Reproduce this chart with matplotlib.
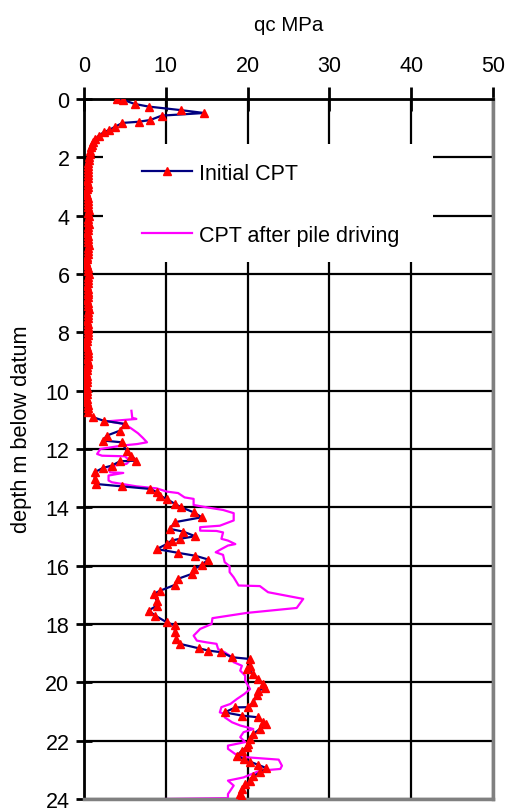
import matplotlib
matplotlib.use("Agg")
import matplotlib.pyplot as plt
from matplotlib.patches import Rectangle

plt.rcParams['font.family'] = ['Liberation Sans', 'DejaVu Sans']

# ---- data ----
depth_initial = [0.00, 0.03, 0.17, 0.26, 0.38, 0.48, 0.57, 0.72, 0.78, 0.82, 0.95, 1.06, 1.14, 1.26,
                 1.37, 1.48, 1.57, 1.66, 1.78, 1.90,
                 2.0, 2.1, 2.2, 2.3, 2.4, 2.5, 2.6, 2.7, 2.8, 2.9,
                 3.0, 3.1, 3.2, 3.3, 3.4, 3.5, 3.6, 3.7, 3.8, 3.9,
                 4.0, 4.1, 4.2, 4.3, 4.4, 4.5, 4.6, 4.7, 4.8, 4.9,
                 5.0, 5.1, 5.2, 5.3, 5.4, 5.5, 5.6, 5.7, 5.8, 5.9,
                 6.0, 6.1, 6.2, 6.3, 6.4, 6.5, 6.6, 6.7, 6.8, 6.9,
                 7.0, 7.1, 7.2, 7.3, 7.4, 7.5, 7.6, 7.7, 7.8, 7.9,
                 8.0, 8.1, 8.2, 8.3, 8.4, 8.5, 8.6, 8.7, 8.8, 8.9,
                 9.0, 9.1, 9.2, 9.3, 9.4, 9.5, 9.6, 9.7, 9.8, 9.9,
                 10.0, 10.1, 10.2, 10.3, 10.4, 10.5, 10.6,
                 10.74, 10.91, 11.03, 11.14, 11.37, 11.54, 11.71, 11.77, 12.06, 12.23, 12.40, 12.42,
                 12.57, 12.65, 12.80, 13.03, 13.20, 13.28, 13.37, 13.48, 13.60, 13.71, 13.88, 14.00,
                 14.17, 14.34, 14.51, 14.74, 14.83, 14.99, 15.08, 15.14, 15.26, 15.43, 15.56, 15.66,
                 15.79, 15.97, 16.13, 16.28, 16.45, 16.66, 16.86, 16.97, 17.20, 17.37, 17.54, 17.71,
                 17.94, 18.05, 18.28, 18.51, 18.68, 18.83, 18.91, 18.97, 19.14, 19.20, 19.43, 19.54,
                 19.71, 19.89, 20.06, 20.20, 20.28, 20.45, 20.68, 20.85, 20.86, 21.03, 21.14, 21.20,
                 21.37, 21.43, 21.60, 21.77, 21.94, 22.11, 22.22, 22.34, 22.51, 22.63, 22.72, 22.83,
                 22.94, 23.09, 23.22, 23.37, 23.49, 23.66, 23.83, 23.94, 24.05]
qc_initial = [4.0, 4.8, 6.2, 7.9, 11.8, 14.7, 9.5, 8.1, 6.7, 4.7, 3.8, 3.1, 2.4, 1.8,
              1.4, 1.1, 1.0, 0.9, 0.75, 0.7,
              0.65, 0.6, 0.55, 0.5, 0.55, 0.5, 0.45, 0.5, 0.4, 0.45,
              0.5, 0.35, 0.3, 0.4, 0.45, 0.5, 0.55, 0.5, 0.6, 0.55,
              0.6, 0.5, 0.55, 0.6, 0.5, 0.45, 0.4, 0.5, 0.45, 0.55,
              0.6, 0.55, 0.5, 0.45, 0.4, 0.35, 0.3, 0.4, 0.5, 0.55,
              0.6, 0.55, 0.5, 0.45, 0.4, 0.5, 0.55, 0.5, 0.45, 0.4,
              0.45, 0.5, 0.6, 0.55, 0.5, 0.45, 0.4, 0.45, 0.5, 0.55,
              0.5, 0.45, 0.4, 0.35, 0.3, 0.4, 0.45, 0.5, 0.45, 0.4,
              0.45, 0.5, 0.4, 0.35, 0.3, 0.35, 0.4, 0.35, 0.3, 0.35,
              0.4, 0.35, 0.3, 0.35, 0.4, 0.45, 0.5,
              0.5, 1.1, 2.4, 5.0, 4.4, 2.8, 2.3, 4.6, 5.2, 5.8, 6.4, 4.4,
              3.4, 2.3, 1.3, 1.3, 1.5, 4.6, 8.1, 8.9, 9.3, 10.1, 11.1, 11.9,
              13.4, 14.4, 11.1, 10.5, 12.1, 13.6, 11.7, 10.7, 10.1, 8.9, 11.5, 13.6,
              15.2, 14.4, 13.4, 13.2, 11.5, 11.1, 9.3, 8.5, 8.9, 8.9, 7.9, 8.7,
              10.1, 11.1, 11.1, 11.3, 11.7, 14.0, 15.2, 16.8, 18.1, 20.3, 20.3, 19.9,
              20.7, 21.3, 21.9, 22.1, 21.3, 21.1, 20.7, 20.1, 18.5, 17.2, 19.3, 21.3,
              21.9, 22.3, 21.5, 20.7, 20.3, 20.1, 19.9, 19.3, 18.7, 19.5, 20.3, 21.3,
              22.3, 21.5, 20.7, 20.3, 19.7, 19.3, 19.1, 19.3, 19.1]

depth_after = [10.69, 10.93, 10.97, 11.05, 11.15, 11.30, 11.46, 11.62, 11.77, 11.83, 11.88, 12.00,
               12.17, 12.23, 12.25, 12.40, 12.51, 12.57, 12.69, 12.80, 12.82, 12.91, 13.08, 13.14,
               13.28, 13.35, 13.46, 13.51, 13.66, 13.71, 13.92, 14.00, 14.09, 14.20, 14.45, 14.63,
               14.68, 14.80, 14.81, 14.86, 15.08, 15.14, 15.26, 15.31, 15.43, 15.54, 15.63, 15.88,
               16.02, 16.22, 16.40, 16.68, 16.70, 16.91, 17.14, 17.45, 17.62, 17.80, 18.00, 18.17,
               18.40, 18.57, 18.63, 18.68, 18.86, 18.97, 19.08, 19.31, 19.43, 19.60, 19.77, 19.94,
               20.23, 20.40, 20.57, 20.74, 20.85, 21.03, 21.09, 21.20, 21.37, 21.48, 21.60, 21.71,
               21.88, 22.05, 22.17, 22.28, 22.46, 22.57, 22.65, 22.86, 22.97, 23.03, 23.26, 23.37,
               23.54, 23.83, 23.97, 24.00]
qc_after = [5.8, 5.9, 6.4, 2.9, 5.0, 5.8, 6.6, 7.2, 7.7, 6.5, 4.7, 2.0,
            1.6, 2.2, 5.0, 5.6, 5.2, 3.6, 3.0, 3.2, 4.8, 3.0, 3.0, 3.4,
            6.4, 8.9, 10.1, 11.5, 12.3, 13.4, 13.4, 15.0, 17.0, 18.3, 18.3, 16.6,
            14.2, 14.2, 16.2, 17.0, 16.8, 17.6, 18.5, 17.6, 16.8, 16.1, 17.0, 17.2,
            17.8, 17.8, 18.3, 18.9, 21.5, 22.5, 26.8, 26.0, 19.9, 15.7, 15.6, 14.2,
            13.4, 13.8, 15.0, 16.2, 16.4, 17.2, 17.8, 18.3, 19.3, 19.1, 19.7, 19.7,
            20.3, 19.6, 18.7, 17.9, 16.8, 16.6, 17.4, 17.2, 18.1, 19.1, 20.7, 19.5,
            19.1, 19.7, 17.6, 17.6, 18.5, 19.9, 23.8, 24.2, 24.0, 21.5, 19.5, 17.6,
            18.3, 17.6, 17.6, 10.0]

x_ticks = [0, 10, 20, 30, 40, 50]
y_ticks = [0, 2, 4, 6, 8, 10, 12, 14, 16, 18, 20, 22, 24]
series_labels = ["Initial CPT", "CPT after pile driving"]

# ---- figure ----
W, H = 507, 812
fig = plt.figure(figsize=(W / 100, H / 100), dpi=100)
ax = fig.add_axes([84 / W, 1 - 800 / H, 409 / W, 700 / H])

ax.set_axisbelow(True)
ax.grid(True, color='black', linewidth=1.6, zorder=0.5)

# legend background box (hides grid lines)
ax.add_patch(Rectangle(((103 - 84) / 409, 1 - (263 - 100) / 700), (433 - 103) / 409, (263 - 145) / 700,
                       transform=ax.transAxes, facecolor='white', edgecolor='none', zorder=1))

l1, = ax.plot(qc_initial, depth_initial, color='#000080', linewidth=1.6, marker='^',
              markersize=5.5, markerfacecolor='red', markeredgecolor='red', zorder=3,
              label=series_labels[0])
l2, = ax.plot(qc_after, depth_after, color='#FF00FF', linewidth=1.6, zorder=2,
              label=series_labels[1])

ax.set_xlim(0, 50)
ax.set_ylim(24, 0)
ax.xaxis.tick_top()
ax.xaxis.set_label_position('top')
ax.set_xticks(x_ticks)
ax.set_yticks(y_ticks)
ax.tick_params(axis='x', direction='inout', length=17, width=2, labelsize=15.5, pad=8)
ax.tick_params(axis='y', direction='inout', length=11, width=2, labelsize=15.5, pad=5)

for s in ['top', 'left']:
    ax.spines[s].set_color('black')
    ax.spines[s].set_linewidth(2)
for s in ['bottom', 'right']:
    ax.spines[s].set_color('#808080')
    ax.spines[s].set_linewidth(2.5)

ax.set_xlabel("qc MPa", fontsize=14.8, labelpad=18)
ax.set_ylabel("depth m below datum", fontsize=15.7)
ax.yaxis.set_label_coords(-(84 - 32) / 409, 1 - (429 - 100) / 700)

leg = ax.legend(handles=[l1, l2], loc='upper left',
                bbox_to_anchor=((142 - 84) / 409, 1 - (164 - 100) / 700),
                frameon=False, fontsize=15.5, borderpad=0, borderaxespad=0,
                handlelength=2.3, handletextpad=0.35, labelspacing=1.9, numpoints=1)

fig.savefig("out.png", dpi=100)
